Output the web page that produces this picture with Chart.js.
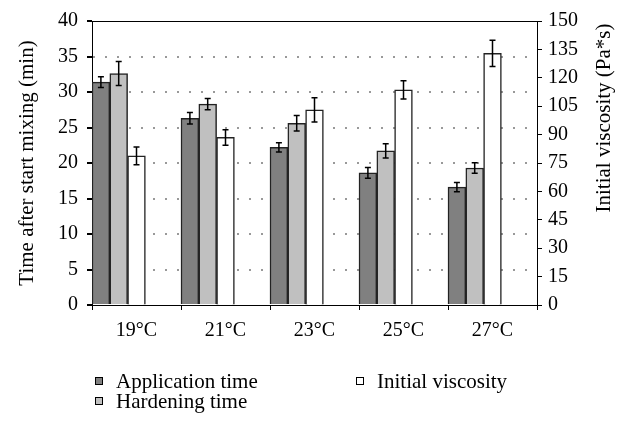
<!DOCTYPE html>
<html>
<head>
<meta charset="utf-8">
<script src="https://cdn.jsdelivr.net/npm/chart.js@4"></script>
<style>
  body { margin: 0; background: #fff; }
  #wrap { position: relative; width: 622px; height: 421px; }
  #legend { position: absolute; left: 0; top: 0; font: 21px "Liberation Serif", serif; color: #000; }
  .item { position: absolute; white-space: nowrap; line-height: 20px; }
  .box { position: absolute; width: 6px; height: 6px; border: 1px solid #000; }
</style>
</head>
<body>
<div id="wrap">
  <canvas id="graph" width="622" height="421"></canvas>
  <div id="legend"></div>
</div>
<script>
const graphRef = document.getElementById('graph');
const legendRef = document.getElementById('legend');

const temperatures = ['19°C', '21°C', '23°C', '25°C', '27°C'];
const applicationTime = [31.4, 26.3, 22.2, 18.6, 16.6];
const applicationErr = [0.75, 0.8, 0.65, 0.75, 0.65];
const hardeningTime = [32.6, 28.3, 25.6, 21.7, 19.3];
const hardeningErr = [1.7, 0.8, 1.1, 1.0, 0.75];
const initialViscosity = [78.8, 88.5, 103.1, 113.6, 132.9];
const viscosityErr = [4.7, 4.1, 6.4, 4.8, 6.9];
const empty = [null, null, null, null, null];
const rightTitle = 'Initial viscosity (Pa*s)';

const font = { family: '"Liberation Serif", serif', size: 20 };

// error bars drawn through the dataset's own y scale
const errorBars = {
  id: 'errorBars',
  afterDatasetsDraw(chart) {
    const ctx = chart.ctx;
    ctx.save();
    ctx.strokeStyle = '#000';
    ctx.lineWidth = 1.5;
    chart.data.datasets.forEach((ds, i) => {
      if (!ds.errors) return;
      const scale = chart.scales[ds.yAxisID];
      chart.getDatasetMeta(i).data.forEach((bar, j) => {
        const v = ds.data[j];
        const e = ds.errors[j];
        const y1 = scale.getPixelForValue(v + e);
        const y2 = scale.getPixelForValue(v - e);
        ctx.beginPath();
        ctx.moveTo(bar.x, y1);
        ctx.lineTo(bar.x, y2);
        ctx.moveTo(bar.x - 3, y1);
        ctx.lineTo(bar.x + 3, y1);
        ctx.moveTo(bar.x - 3, y2);
        ctx.lineTo(bar.x + 3, y2);
        ctx.stroke();
      });
    });
    ctx.restore();
  }
};

// top edge of the plot box + right axis title reading upwards
const frame = {
  id: 'frame',
  afterDraw(chart) {
    const { ctx, chartArea } = chart;
    ctx.save();
    ctx.strokeStyle = '#000';
    ctx.lineWidth = 1;
    ctx.beginPath();
    ctx.moveTo(chartArea.left, chartArea.top + 0.5);
    ctx.lineTo(chartArea.right, chartArea.top + 0.5);
    ctx.stroke();

    ctx.translate(chart.width - 18, 118);
    ctx.rotate(-Math.PI / 2);
    ctx.fillStyle = '#000';
    ctx.font = '21px "Liberation Serif", serif';
    ctx.textAlign = 'center';
    ctx.textBaseline = 'middle';
    ctx.fillText(rightTitle, 0, 0);
    ctx.restore();
  }
};

const datasets = [
  { label: 'Application time', data: applicationTime, errors: applicationErr, yAxisID: 'y', backgroundColor: '#808080' },
  { label: 'Hardening time', data: hardeningTime, errors: hardeningErr, yAxisID: 'y', backgroundColor: '#c0c0c0' },
  { label: 'Initial viscosity', data: initialViscosity, errors: viscosityErr, yAxisID: 'y1', backgroundColor: '#ffffff' },
  { label: '', data: empty, yAxisID: 'y' },
  { label: '', data: empty, yAxisID: 'y' },
];
datasets.forEach(ds => {
  ds.borderColor = '#222';
  ds.borderWidth = 1.5;
  ds.categoryPercentage = 1;
  ds.barPercentage = 1;
});

new Chart(graphRef, {
  type: 'bar',
  data: { labels: temperatures, datasets: datasets },
  options: {
    responsive: false,
    animation: false,
    layout: { padding: { top: 15, bottom: 76, left: 0, right: 0 } },
    plugins: { legend: { display: false }, tooltip: { enabled: false } },
    scales: {
      x: {
        afterFit: s => { s.height = 40; },
        grid: { offset: true, drawOnChartArea: false, tickLength: 5, tickColor: '#000' },
        border: { color: '#000', width: 1 },
        ticks: { color: '#000', font: font, padding: 9 },
      },
      y: {
        min: 0,
        max: 40,
        afterFit: s => { s.width = 92; },
        ticks: { stepSize: 5, color: '#000', font: font, padding: 9 },
        grid: {
          tickLength: 5,
          tickColor: '#000',
          lineWidth: 2,
          color: c => (c.tick.value === 0 || c.tick.value === 40) ? 'rgba(0,0,0,0)' : '#999',
        },
        border: { color: '#000', width: 1, dash: [2, 10] },
        title: {
          display: true,
          text: 'Time after start mixing (min)',
          color: '#000',
          font: { family: '"Liberation Serif", serif', size: 21, lineHeight: 1.2 },
          padding: { top: 15 },
        },
      },
      y1: {
        position: 'right',
        min: 0,
        max: 150,
        afterFit: s => { s.width = 85; },
        ticks: { stepSize: 15, color: '#000', font: font, padding: 6 },
        grid: { drawOnChartArea: false, tickLength: 5, tickColor: '#000' },
        border: { color: '#000', width: 1 },
      },
    },
  },
  plugins: [errorBars, frame],
});

// legend in two columns below the plot
const legendSpots = [
  { x: 95, y: 371 },
  { x: 95, y: 391 },
  { x: 356, y: 371 },
];
datasets.slice(0, 3).forEach((ds, i) => {
  const spot = legendSpots[i];
  const box = document.createElement('div');
  box.className = 'box';
  box.style.left = spot.x + 'px';
  box.style.top = (spot.y + 6) + 'px';
  box.style.background = ds.backgroundColor;
  legendRef.appendChild(box);
  const item = document.createElement('div');
  item.className = 'item';
  item.style.left = (spot.x + 21) + 'px';
  item.style.top = spot.y + 'px';
  item.textContent = ds.label;
  legendRef.appendChild(item);
});
</script>
</body>
</html>
